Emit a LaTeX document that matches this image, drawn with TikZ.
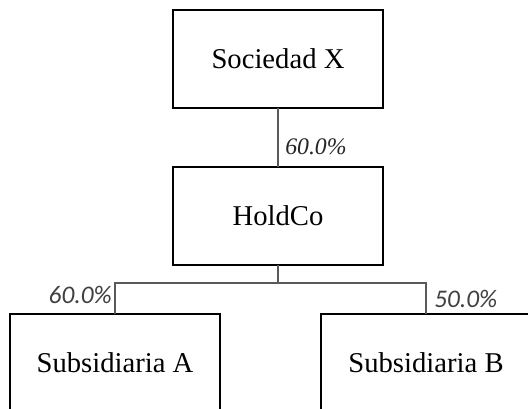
\documentclass[tikz,border=0pt]{standalone}
\usepackage{fontspec}
\setmainfont{Liberation Serif}
\newfontfamily\labelfont{Carlito}
\usepackage{tikz}
\usetikzlibrary{positioning}
\definecolor{linegray}{HTML}{595959}
\definecolor{pctgray}{HTML}{404040}

\begin{document}
\begin{tikzpicture}[x=1pt, y=1pt, node distance=44.25pt,
  box/.style={rectangle, draw, line width=1.5pt, outer sep=0pt,
    minimum width=157.5pt, minimum height=73.5pt, inner sep=0pt,
    font=\rmfamily\fontsize{21.5}{25}\selectfont},
  pct/.style={inner sep=0pt, text=black!85,
    font=\rmfamily\itshape\fontsize{17.8}{20}\selectfont},
  pctsans/.style={inner sep=0pt, text=pctgray,
    font=\labelfont\itshape\fontsize{19}{22}\selectfont},
  link/.style={draw=linegray, line width=0.8pt}]
  \clip (0,0) rectangle (396,-306);
  \node[box] (socx) at (208.5,-44.25) {Sociedad X};
  \node[box] (holdco) [below=of socx] {HoldCo};
  \node[box] (suba) at (86.25,-272) {Subsidiaria A};
  \node[box] (subb) at (319.5,-272) {Subsidiaria B};
  \coordinate[below=13.5pt of holdco.south] (split);
  \draw[link] (socx) -- (holdco);
  \draw[link] (holdco) -- (split);
  \draw[link] (suba.north) |- (split) -| (subb.north);
  % ownership shares
  \node[pct, anchor=base west] (pctx) at ([xshift=5.25pt,yshift=9.75pt]holdco.north) {60.0\%};
  \node[pctsans, anchor=base east] (pcta) at ([xshift=-2.25pt,yshift=7.5pt]suba.north) {60.0\%};
  \node[pctsans, anchor=base west] (pctb) at ([xshift=6pt,yshift=4.5pt]subb.north) {50.0\%};
\end{tikzpicture}
\end{document}
